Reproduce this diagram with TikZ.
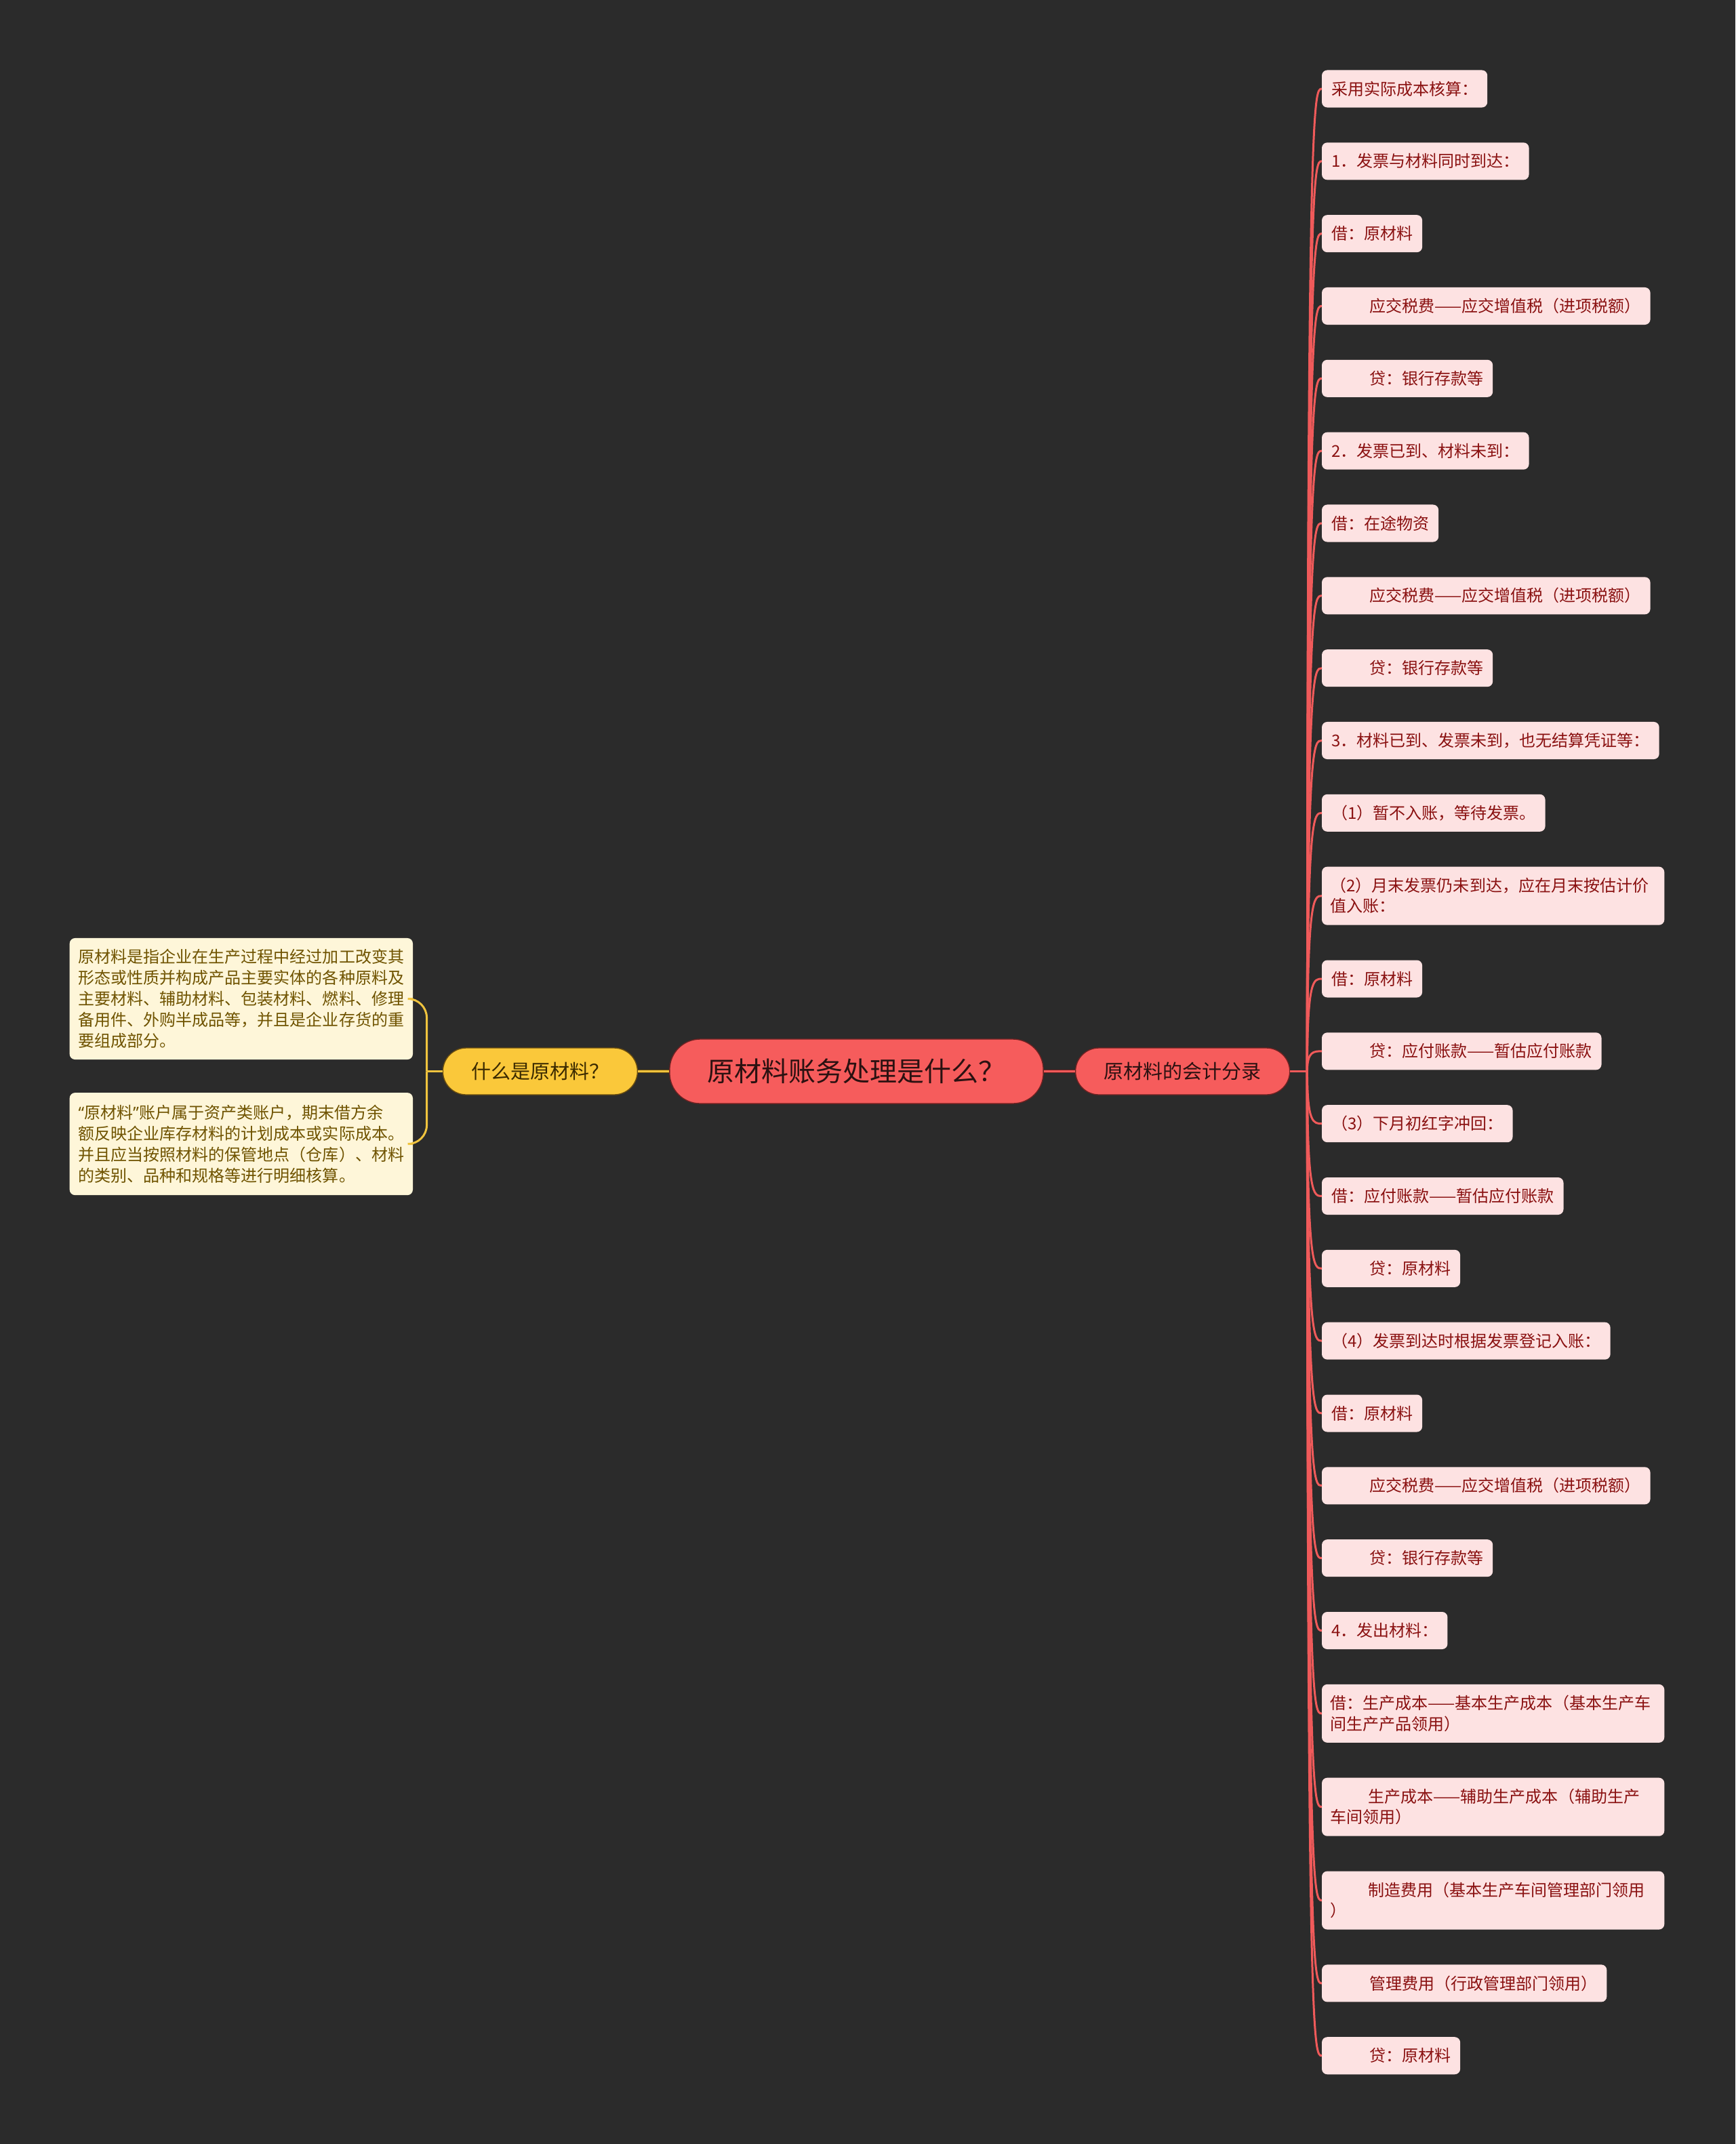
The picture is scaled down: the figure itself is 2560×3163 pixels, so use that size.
\documentclass[tikz,border=0pt]{standalone}
\usepackage{fontspec}
\setmainfont{Noto Sans CJK SC}
\newfontfamily\latinq{Noto Sans}
\usetikzlibrary{positioning}

\definecolor{bgdark}{HTML}{2B2B2B}
\definecolor{rootred}{HTML}{F65C5C}
\definecolor{rootedge}{HTML}{6E2222}
\definecolor{roottext}{HTML}{2B1111}
\definecolor{topicyellow}{HTML}{FAC83A}
\definecolor{yedge}{HTML}{6A4E10}
\definecolor{ytext}{HTML}{3A2A00}
\definecolor{leafpink}{HTML}{FDE2E2}
\definecolor{leaftext}{HTML}{8A1111}
\definecolor{cream}{HTML}{FEF6D9}
\definecolor{creamtext}{HTML}{6F5300}
\definecolor{linkred}{HTML}{F05A5A}
\definecolor{linkyellow}{HTML}{EFC33E}

\newcommand{\ind}{\hspace*{0.56cm}}

\tikzset{
  rootbox/.style={rounded corners=0.45cm, fill=rootred, draw=rootedge, line width=0.4pt,
    text=roottext, inner xsep=0.555cm, inner ysep=0pt, minimum height=0.95cm,
    font=\fontsize{11.38}{13}\selectfont},
  topicbox/.style={rounded corners=0.345cm, line width=0.4pt, inner xsep=0.42cm,
    inner ysep=0pt, minimum height=0.69cm, font=\fontsize{8.25}{10}\selectfont},
  rleaf/.style={rounded corners=0.08cm, fill=leafpink, text=leaftext, inner xsep=0.14cm,
    inner ysep=0pt, outer sep=0pt, minimum height=0.55cm,
    font=\fontsize{6.83}{8.54}\selectfont},
  rleaftwo/.style={rleaf, minimum height=0.86cm, text width=4.80cm, align=left,
    inner xsep=0.125cm},
  lleaf/.style={rounded corners=0.08cm, fill=cream, text=creamtext, inner xsep=0.13cm,
    inner ysep=0pt, outer sep=0pt, text width=4.80cm, align=left,
    font=\fontsize{6.83}{8.82}\selectfont},
  rbranch/.style={draw=linkred, line width=0.03cm},
  ybranch/.style={draw=linkyellow, line width=0.03cm},
  rlink/.style={draw=rootedge, line width=0.3pt, double=linkred, double distance=0.025cm},
  ylink/.style={draw=yedge, line width=0.3pt, double=linkyellow, double distance=0.025cm}
}

\begin{document}
\begin{tikzpicture}[x=0.01cm, y=-0.01cm, node distance=0.5177cm]
  \fill[bgdark] (0,0) rectangle (2560,3163);
  \useasboundingbox (0,0) rectangle (2560,3163);

  % centre and the two topics
  \node[rootbox] (c) at (1263.5,1580.5) {原材料账务处理是什么？};
  \node[topicbox, fill=topicyellow, draw=yedge, text=ytext, left=0.46cm of c] (l) {什么是原材料？};
  \node[topicbox, fill=rootred, draw=rootedge, text=roottext, right=0.46cm of c] (r) {原材料的会计分录};
  \coordinate[left=0.23cm of l.west] (lj);
  \coordinate[right=0.25cm of r.east] (rj);

  % left side
  \node[lleaf, minimum height=1.79cm, anchor=east] (l1) at (609,1473.5)
    {原材料是指企业在生产过程中经过加工改变其\\形态或性质并构成产品主要实体的各种原料及\\主要材料、辅助材料、包装材料、燃料、修理\\备用件、外购半成品等，并且是企业存货的重\\要组成部分。};
  \node[lleaf, minimum height=1.51cm, below=0.49cm of l1] (l2)
    {{\latinq “}原材料{\latinq ”}账户属于资产类账户，期末借方余\\额反映企业库存材料的计划成本或实际成本。\\并且应当按照材料的保管地点（仓库）、材料\\的类别、品种和规格等进行明细核算。};

  % right side
  \node[rleaf, anchor=west] (r1) at (1950,131) {采用实际成本核算：};
  \node[rleaf, below=of r1.south west, anchor=north west] (r2) {1．发票与材料同时到达：};
  \node[rleaf, below=of r2.south west, anchor=north west] (r3) {借：原材料};
  \node[rleaf, below=of r3.south west, anchor=north west] (r4) {\ind 应交税费——应交增值税（进项税额）};
  \node[rleaf, below=of r4.south west, anchor=north west] (r5) {\ind 贷：银行存款等};
  \node[rleaf, below=of r5.south west, anchor=north west] (r6) {2．发票已到、材料未到：};
  \node[rleaf, below=of r6.south west, anchor=north west] (r7) {借：在途物资};
  \node[rleaf, below=of r7.south west, anchor=north west] (r8) {\ind 应交税费——应交增值税（进项税额）};
  \node[rleaf, below=of r8.south west, anchor=north west] (r9) {\ind 贷：银行存款等};
  \node[rleaf, below=of r9.south west, anchor=north west] (r10) {3．材料已到、发票未到，也无结算凭证等：};
  \node[rleaf, below=of r10.south west, anchor=north west] (r11) {（1）暂不入账，等待发票。};
  \node[rleaftwo, below=of r11.south west, anchor=north west] (r12) {（2）月末发票仍未到达，应在月末按估计价\\值入账：};
  \node[rleaf, below=of r12.south west, anchor=north west] (r13) {借：原材料};
  \node[rleaf, below=of r13.south west, anchor=north west] (r14) {\ind 贷：应付账款——暂估应付账款};
  \node[rleaf, below=of r14.south west, anchor=north west] (r15) {（3）下月初红字冲回：};
  \node[rleaf, below=of r15.south west, anchor=north west] (r16) {借：应付账款——暂估应付账款};
  \node[rleaf, below=of r16.south west, anchor=north west] (r17) {\ind 贷：原材料};
  \node[rleaf, below=of r17.south west, anchor=north west] (r18) {（4）发票到达时根据发票登记入账：};
  \node[rleaf, below=of r18.south west, anchor=north west] (r19) {借：原材料};
  \node[rleaf, below=of r19.south west, anchor=north west] (r20) {\ind 应交税费——应交增值税（进项税额）};
  \node[rleaf, below=of r20.south west, anchor=north west] (r21) {\ind 贷：银行存款等};
  \node[rleaf, below=of r21.south west, anchor=north west] (r22) {4．发出材料：};
  \node[rleaftwo, below=of r22.south west, anchor=north west] (r23) {借：生产成本——基本生产成本（基本生产车\\间生产产品领用）};
  \node[rleaftwo, below=of r23.south west, anchor=north west] (r24) {\ind 生产成本——辅助生产成本（辅助生产\\车间领用）};
  \node[rleaftwo, below=of r24.south west, anchor=north west] (r25) {\ind 制造费用（基本生产车间管理部门领用\\）};
  \node[rleaf, below=of r25.south west, anchor=north west] (r26) {\ind 管理费用（行政管理部门领用）};
  \node[rleaf, below=of r26.south west, anchor=north west] (r27) {\ind 贷：原材料};

  % connectors
  \draw[ylink] (c) -- (l);
  \draw[rlink] (c) -- (r);
  \draw[ybranch] (l.west) -- (lj);
  \draw[ybranch, rounded corners=0.28cm] (lj) |- (l1.east);
  \draw[ybranch, rounded corners=0.28cm] (lj) |- (l2.east);
  \draw[rbranch] (r.east) -- (rj);
  \draw[rbranch] (rj) .. controls (rj |- r1.west) and ([xshift=-0.12cm]r1.west) .. (r1.west);
  \draw[rbranch] (rj) .. controls (rj |- r2.west) and ([xshift=-0.12cm]r2.west) .. (r2.west);
  \draw[rbranch] (rj) .. controls (rj |- r3.west) and ([xshift=-0.12cm]r3.west) .. (r3.west);
  \draw[rbranch] (rj) .. controls (rj |- r4.west) and ([xshift=-0.12cm]r4.west) .. (r4.west);
  \draw[rbranch] (rj) .. controls (rj |- r5.west) and ([xshift=-0.12cm]r5.west) .. (r5.west);
  \draw[rbranch] (rj) .. controls (rj |- r6.west) and ([xshift=-0.12cm]r6.west) .. (r6.west);
  \draw[rbranch] (rj) .. controls (rj |- r7.west) and ([xshift=-0.12cm]r7.west) .. (r7.west);
  \draw[rbranch] (rj) .. controls (rj |- r8.west) and ([xshift=-0.12cm]r8.west) .. (r8.west);
  \draw[rbranch] (rj) .. controls (rj |- r9.west) and ([xshift=-0.12cm]r9.west) .. (r9.west);
  \draw[rbranch] (rj) .. controls (rj |- r10.west) and ([xshift=-0.12cm]r10.west) .. (r10.west);
  \draw[rbranch] (rj) .. controls (rj |- r11.west) and ([xshift=-0.12cm]r11.west) .. (r11.west);
  \draw[rbranch] (rj) .. controls (rj |- r12.west) and ([xshift=-0.12cm]r12.west) .. (r12.west);
  \draw[rbranch] (rj) .. controls (rj |- r13.west) and ([xshift=-0.12cm]r13.west) .. (r13.west);
  \draw[rbranch] (rj) .. controls (rj |- r14.west) and ([xshift=-0.12cm]r14.west) .. (r14.west);
  \draw[rbranch] (rj) .. controls (rj |- r15.west) and ([xshift=-0.12cm]r15.west) .. (r15.west);
  \draw[rbranch] (rj) .. controls (rj |- r16.west) and ([xshift=-0.12cm]r16.west) .. (r16.west);
  \draw[rbranch] (rj) .. controls (rj |- r17.west) and ([xshift=-0.12cm]r17.west) .. (r17.west);
  \draw[rbranch] (rj) .. controls (rj |- r18.west) and ([xshift=-0.12cm]r18.west) .. (r18.west);
  \draw[rbranch] (rj) .. controls (rj |- r19.west) and ([xshift=-0.12cm]r19.west) .. (r19.west);
  \draw[rbranch] (rj) .. controls (rj |- r20.west) and ([xshift=-0.12cm]r20.west) .. (r20.west);
  \draw[rbranch] (rj) .. controls (rj |- r21.west) and ([xshift=-0.12cm]r21.west) .. (r21.west);
  \draw[rbranch] (rj) .. controls (rj |- r22.west) and ([xshift=-0.12cm]r22.west) .. (r22.west);
  \draw[rbranch] (rj) .. controls (rj |- r23.west) and ([xshift=-0.12cm]r23.west) .. (r23.west);
  \draw[rbranch] (rj) .. controls (rj |- r24.west) and ([xshift=-0.12cm]r24.west) .. (r24.west);
  \draw[rbranch] (rj) .. controls (rj |- r25.west) and ([xshift=-0.12cm]r25.west) .. (r25.west);
  \draw[rbranch] (rj) .. controls (rj |- r26.west) and ([xshift=-0.12cm]r26.west) .. (r26.west);
  \draw[rbranch] (rj) .. controls (rj |- r27.west) and ([xshift=-0.12cm]r27.west) .. (r27.west);
\end{tikzpicture}
\end{document}
